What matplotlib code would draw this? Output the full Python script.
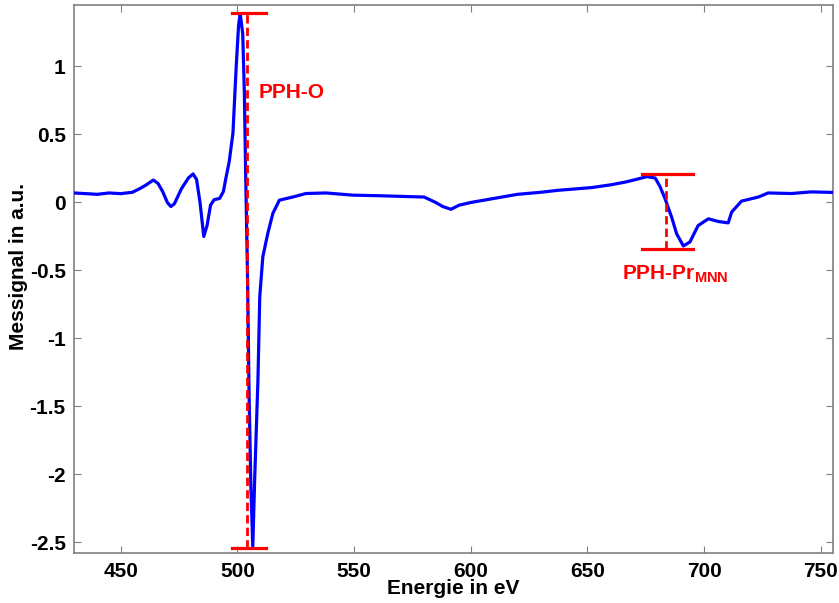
import matplotlib.pyplot as plt

plt.rcParams['font.family'] = ['Liberation Sans', 'DejaVu Sans']
plt.rcParams['font.weight'] = 'bold'
plt.rcParams['axes.unicode_minus'] = False
plt.rcParams['mathtext.fontset'] = 'custom'
plt.rcParams['mathtext.rm'] = 'Liberation Sans'
plt.rcParams['mathtext.bf'] = 'Liberation Sans:bold'

# Messkurve
energie = [430, 435, 440, 445, 450, 455, 458, 461, 464, 466, 468, 470, 471.5, 473,
           476, 479, 481, 482.5, 484, 485.6, 487, 488.5, 490, 492.4, 494, 495.2,
           496.5, 498.1, 499.5, 500.5, 501.2, 502.3, 503.0, 503.5, 504.4, 505.0,
           505.8, 506.6, 507.4, 508.8, 509.6, 510.9, 513.0, 515.2, 518, 523.7,
           529.4, 538, 549.4, 560, 570, 580, 585, 588, 591.5, 595, 600, 610, 620,
           630, 637.7, 645, 652, 660, 666.2, 671, 675.4, 679, 681, 683.2, 686.1,
           688.2, 691.1, 693.9, 697.4, 701.8, 706.1, 710.3, 711.8, 716, 723.2,
           727.4, 737.4, 745.9, 755]
signal = [0.07, 0.065, 0.06, 0.07, 0.065, 0.075, 0.10, 0.13, 0.165, 0.14, 0.08, 0.0,
          -0.03, -0.01, 0.10, 0.18, 0.21, 0.17, 0.0, -0.25, -0.17, -0.02, 0.02, 0.03,
          0.08, 0.19, 0.30, 0.51, 1.0, 1.3, 1.39, 1.24, 0.8, 0.26, -0.6, -1.4,
          -2.1, -2.53, -2.04, -1.31, -0.69, -0.40, -0.23, -0.08, 0.017, 0.04,
          0.066, 0.07, 0.054, 0.05, 0.045, 0.04, 0.0, -0.03, -0.05, -0.02, 0.0, 0.03,
          0.06, 0.075, 0.09, 0.10, 0.11, 0.13, 0.15, 0.17, 0.19, 0.18, 0.12, 0.03,
          -0.11, -0.23, -0.32, -0.29, -0.17, -0.12, -0.14, -0.15, -0.07, 0.01, 0.04,
          0.07, 0.066, 0.078, 0.074]

# Peak-zu-Peak Markierungen
pph_o_x = 504.3
pph_o_y = [-2.54, 1.397]
pph_o_bar = [497.6, 512.2]
pph_pr_x = 683.5
pph_pr_y = [-0.343, 0.213]
pph_pr_bar = [673.3, 695.0]

grau = '#808080'

fig = plt.figure(figsize=(8.39, 6.03), dpi=100)
ax = fig.add_axes([0.0882, 0.0824, 0.9041, 0.9088])

ax.plot(energie, signal, color='#0000ff', lw=2.3, zorder=3)

# PPH-O
ax.plot([pph_o_x, pph_o_x], pph_o_y, color='#ff0000', lw=2.0, ls=(0, (3, 1.5)), zorder=4)
for y in pph_o_y:
    ax.plot(pph_o_bar, [y, y], color='#ff0000', lw=2.3, zorder=4)
ax.text(509.2, 0.81, 'PPH-O', color='#ff0000', fontsize=15, fontweight='bold',
        ha='left', va='center')

# PPH-Pr
ax.plot([pph_pr_x, pph_pr_x], pph_pr_y, color='#ff0000', lw=2.0, ls=(0, (3, 1.5)), zorder=4)
for y in pph_pr_y:
    ax.plot(pph_pr_bar, [y, y], color='#ff0000', lw=2.3, zorder=4)
ax.text(664.6, -0.525, r'PPH-Pr$_{\mathrm{MNN}}$', color='#ff0000', fontsize=15,
        fontweight='bold', ha='left', va='center')

ax.set_xlim(430, 755)
ax.set_ylim(-2.58, 1.45)
ax.set_xticks([450, 500, 550, 600, 650, 700, 750])
ax.set_yticks([-2.5, -2, -1.5, -1, -0.5, 0, 0.5, 1])
ax.set_yticklabels(['-2.5', '-2', '-1.5', '-1', '-0.5', '0', '0.5', '1'])
ax.tick_params(direction='in', length=5, color=grau, top=True, right=True,
               labelsize=15, pad=6)
for lab in ax.get_xticklabels() + ax.get_yticklabels():
    lab.set_fontweight('bold')
for s in ax.spines.values():
    s.set_color(grau)
    s.set_linewidth(1.2)

ax.set_xlabel('Energie in eV', fontsize=15, fontweight='bold', labelpad=-1)
ax.set_ylabel('Messignal in a.u.', fontsize=15, fontweight='bold')
ax.yaxis.set_label_coords(-0.061, 0.523)

fig.savefig('out.png', dpi=100)
